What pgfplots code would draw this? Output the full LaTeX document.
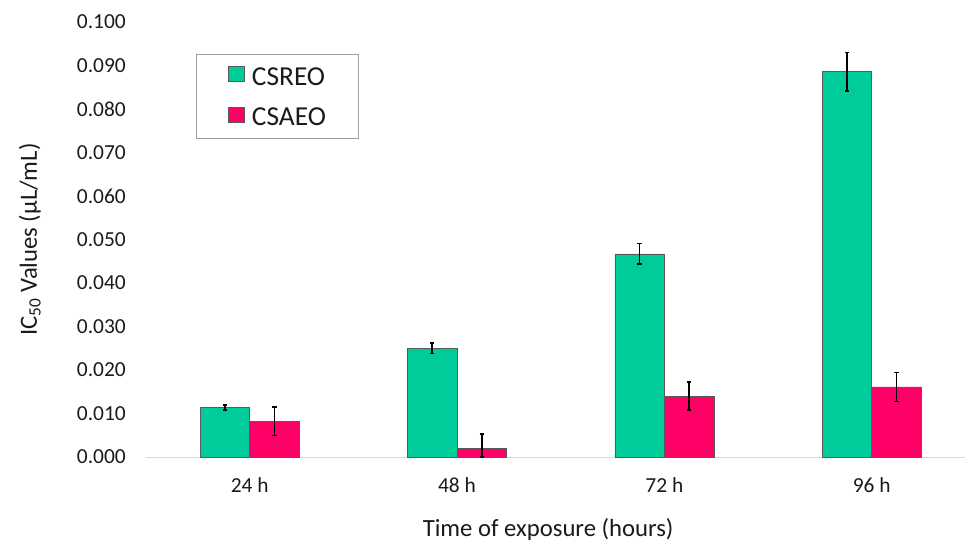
\documentclass[border=0pt]{standalone}
\usepackage{fontspec}
\setmainfont{Carlito}
\usepackage{pgfplots}
\pgfplotsset{compat=1.18}
\usepackage{pgfplotstable}

\definecolor{csreo}{HTML}{00CC99}
\definecolor{csaeo}{HTML}{FF0066}
\definecolor{baroutline}{HTML}{5A5A5A}
\definecolor{baseline}{HTML}{D9D9D9}
\definecolor{txt}{HTML}{1A1A1A}

% IC50 values with their errors (upper / lower), one row per exposure time
\pgfplotstableread{
x   y       ep      em
0   0.0114  0.0006  0.0006
1   0.0250  0.0012  0.0012
2   0.0467  0.0024  0.0024
3   0.0886  0.0044  0.0044
}\csreodata
\pgfplotstableread{
x   y       ep      em
0   0.0082  0.0033  0.0033
1   0.0019  0.0034  0.0019
2   0.0140  0.0032  0.0032
3   0.0161  0.0033  0.0033
}\csaeodata

\pgfplotsset{
  errstyle/.style={
    error bars/y dir=both,
    error bars/y explicit,
    error bars/error bar style={line width=1.6bp, black},
    error bars/error mark options={rotate=90, mark size=2.2bp, line width=1.6bp, black},
  },
}

\begin{document}
\begin{tikzpicture}
\begin{axis}[
  at={(0,0)}, anchor=south west,
  scale only axis,
  width=819bp, height=435bp,
  ybar=0pt, bar width=49.5bp,
  xmin=-0.5, xmax=3.45,
  ymin=0, ymax=0.1,
  xtick={0,1,2,3},
  xticklabels={24 h,48 h,72 h,96 h},
  ytick={0,0.01,...,0.1},
  scaled y ticks=false,
  /pgf/number format/assume math mode=true,
  axis x line*=bottom,
  axis y line*=left,
  x axis line style={draw=baseline, line width=1bp, -},
  y axis line style={draw=none},
  tick style={draw=none},
  major tick length=0pt,
  tick label style={font=\fontsize{21.5}{25}\selectfont, text=txt, inner sep=0pt},
  y tick label style={anchor=east, xshift=-20bp,
    /pgf/number format/fixed, /pgf/number format/fixed zerofill,
    /pgf/number format/precision=3},
  x tick label style={anchor=north, yshift=-20bp},
  xlabel={Time of exposure (hours)},
  ylabel={IC\textsubscript{50} Values (µL/mL)},
  xlabel style={at={(axis description cs:0.491,0)}, anchor=base, yshift=-79bp,
    font=\fontsize{24.8}{28}\selectfont, text=txt, inner sep=0pt},
  every axis y label/.style={at={(axis description cs:-0.1331,0.5)}, anchor=base, rotate=90,
    font=\fontsize{24.8}{28}\selectfont, text=txt, inner sep=0pt},
  clip=false,
  legend style={
    at={(axis description cs:0.061,0.926)}, anchor=north west,
    draw=gray!75, line width=0.8bp,
    font=\fontsize{27.5}{30}\selectfont,
    inner xsep=32bp, inner ysep=11bp,
    nodes={inner sep=0pt, text=txt},
    row sep=20bp,
  },
  legend cell align=left,
  legend image code/.code={
    \draw[#1, draw=baroutline, line width=0.6bp] (0bp,-4bp) rectangle (16bp,11bp);
    \path (23bp,0bp);
  },
]
\addplot[fill=csreo, draw=baroutline, line width=0.6bp, errstyle]
  table[x=x, y=y, y error plus=ep, y error minus=em] {\csreodata};
\addlegendentry{CSREO}
\addplot[fill=csaeo, draw=baroutline, line width=0.6bp, errstyle]
  table[x=x, y=y, y error plus=ep, y error minus=em] {\csaeodata};
\addlegendentry{CSAEO}
\end{axis}
\pgfresetboundingbox
\path[use as bounding box] (-146bp,-84bp) rectangle (819bp,457bp);
\end{tikzpicture}
\end{document}
